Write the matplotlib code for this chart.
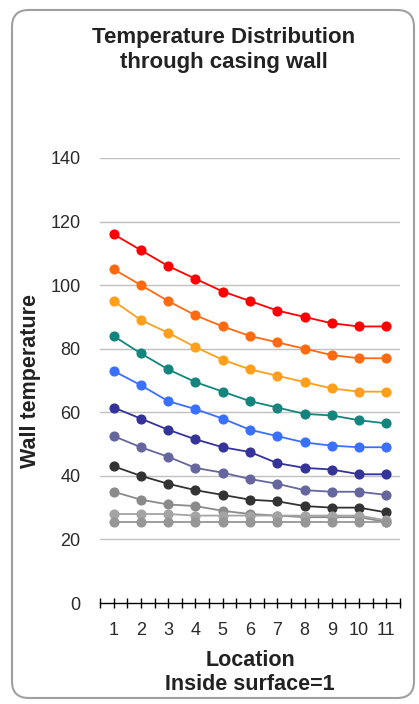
import matplotlib.pyplot as plt
from matplotlib.patches import FancyBboxPatch
from matplotlib.ticker import MultipleLocator

plt.rcParams['font.family'] = ['Liberation Sans', 'DejaVu Sans']

# Location through the wall (1 = inside surface)
locations = [1, 2, 3, 4, 5, 6, 7, 8, 9, 10, 11]

# Wall temperature profiles, hottest to coolest
temp_red = [116, 111, 106, 102, 98, 95, 92, 90, 88, 87, 87]
temp_darkorange = [105, 100, 95, 90.5, 87, 84, 82, 80, 78, 77, 77]
temp_orange = [95, 89, 85, 80.5, 76.5, 73.5, 71.5, 69.5, 67.5, 66.5, 66.5]
temp_teal = [84, 78.5, 73.5, 69.5, 66.5, 63.5, 61.5, 59.5, 59, 57.5, 56.5]
temp_blue = [73, 68.5, 63.5, 61, 58, 54.5, 52.5, 50.5, 49.5, 49, 49]
temp_navy = [61.5, 58, 54.5, 51.5, 49, 47.5, 44, 42.5, 42, 40.5, 40.5]
temp_slate = [52.5, 49, 46, 42.5, 41, 39, 37.5, 35.5, 35, 35, 34]
temp_black = [43, 40, 37.5, 35.5, 34, 32.5, 32, 30.5, 30, 30, 28.5]
temp_gray = [35, 32.5, 31, 30.5, 29, 28, 27.5, 27, 27, 27, 25.5]
temp_lightgray = [28, 28, 28, 27.5, 27.5, 27.5, 27.5, 27.5, 27.5, 27.5, 26]
temp_silver = [25.5, 25.5, 25.5, 25.5, 25.5, 25.5, 25.5, 25.5, 25.5, 25.5, 25.5]

series = [
    (temp_red, "#ff0000"),
    (temp_darkorange, "#ff6a10"),
    (temp_orange, "#ff9f1a"),
    (temp_teal, "#14857e"),
    (temp_blue, "#3a70ff"),
    (temp_navy, "#33339a"),
    (temp_slate, "#66669e"),
    (temp_black, "#333333"),
    (temp_gray, "#8a8a8a"),
    (temp_lightgray, "#a4a4a4"),
    (temp_silver, "#969696"),
]

fig = plt.figure(figsize=(4.19, 7.04), dpi=100)

ax = fig.add_axes([100 / 419, 1 - 603 / 704, 300 / 419, 445 / 704])
ax.set_facecolor("none")

for vals, col in series:
    ax.plot(locations, vals, color=col, linewidth=1.3, marker="o",
            markersize=6.3, zorder=3)

ax.set_xlim(0.5, 11.5)
ax.set_ylim(0, 140)
ax.set_yticks(range(0, 141, 20))
ax.set_xticks(locations)
ax.xaxis.set_minor_locator(MultipleLocator(0.5))

for y in range(20, 141, 20):
    ax.axhline(y, color="#c0c0c0", linewidth=1.0, zorder=1)

for side in ["top", "right", "left"]:
    ax.spines[side].set_visible(False)
ax.spines["bottom"].set_color("black")
ax.spines["bottom"].set_linewidth(1.0)

ax.tick_params(axis="y", length=0, pad=14, labelsize=13, colors="#2a2a2a")
ax.tick_params(axis="x", which="both", direction="inout", length=7,
               width=1.0, color="black", labelsize=13, pad=10,
               labelcolor="#2a2a2a")

ax.set_xlabel("Location\nInside surface=1", fontsize=15.5, fontweight="bold",
              labelpad=8, color="#222222", linespacing=1.2)
ax.set_ylabel("Wall temperature", fontsize=15.5, fontweight="bold",
              labelpad=7, color="#222222")

fig.text(224 / 419, 1 - 50 / 704, "Temperature Distribution\nthrough casing wall",
         ha="center", va="center", fontsize=16, fontweight="bold",
         color="#222222", linespacing=1.2)

# rounded chart border
border = FancyBboxPatch((12 / 419, 6 / 704), 402 / 419, 688 / 704,
                        boxstyle="round,pad=0,rounding_size=0.04",
                        transform=fig.transFigure, facecolor="none",
                        edgecolor="#a0a0a0", linewidth=1.5,
                        mutation_aspect=419 / 704)
fig.patches.append(border)

fig.savefig("out.png", dpi=100)
